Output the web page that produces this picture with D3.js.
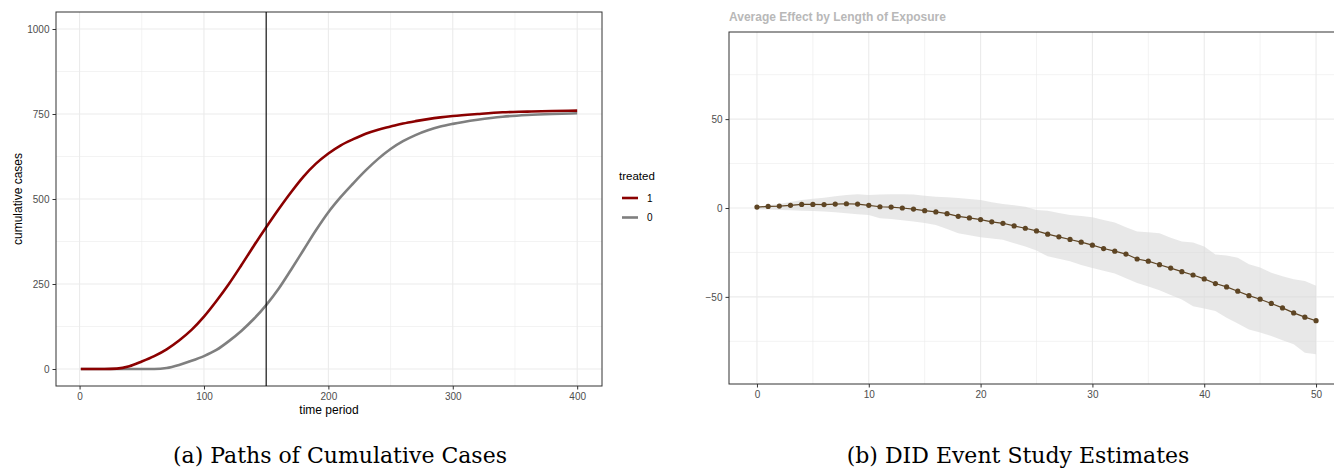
<!DOCTYPE html>
<html>
<head>
<meta charset="utf-8">
<script src="https://cdn.jsdelivr.net/npm/d3@7"></script>
<style>
  body { margin:0; background:#fff; }
  svg { display:block; }
</style>
</head>
<body>
<script>
/////////////////////////////////////////////////////////////////////
// DATA
/////////////////////////////////////////////////////////////////////
var timePeriod   = [1, 10, 20, 30, 40, 50, 60, 70, 80, 90, 100, 110, 120, 130, 140, 150, 160, 170, 180, 190, 200,
                    210, 220, 230, 240, 250, 260, 270, 280, 290, 300, 320, 340, 360, 380, 400];
var casesTreated = [0, 0, 0, 1, 8, 22, 38, 58, 84, 115, 154, 200, 250, 305, 362, 417, 470, 520, 566, 604, 634,
                    658, 676, 692, 704, 713, 722, 729, 735, 740, 744, 750, 755, 757, 759, 760];
var casesControl = [0, 0, 0, 0, 0, 0, 0, 3, 12, 24, 38, 56, 82, 112, 147, 188, 236, 292, 350, 408, 461,
                    506, 546, 584, 618, 647, 670, 688, 702, 713, 721, 733, 742, 747, 750, 752];
var treatTime    = 150;
var legendKeys   = ["1", "0"];

var eventTime = d3.range(0, 51);
var attEst   = [0.5, 0.9, 1.1, 1.5, 2.0, 2.0, 1.9, 2.2, 2.4, 2.2, 1.5, 0.7, 0.5, 0.0, -0.6, -1.5, -2.2, -3.2, -4.7, -5.6,
                -6.5, -7.8, -8.6, -10.1, -11.4, -12.9, -14.7, -16.2, -17.7, -19.2, -20.9, -22.8, -24.3, -25.9, -28.7,
                -29.9, -31.9, -33.8, -35.8, -37.7, -39.9, -42.5, -44.4, -46.8, -49.3, -51.3, -53.7, -56.2, -59.0, -61.4, -63.4];
var attUpper = [0.7, 1.5, 2.2, 3.4, 4.5, 5.2, 5.8, 6.6, 7.3, 7.8, 7.3, 7.6, 7.8, 7.8, 7.6, 6.9, 6.3, 6.0, 5.6, 5.1,
                4.5, 3.2, 2.2, 1.5, 0.7, -1.1, -1.5, -2.8, -3.9, -4.5, -5.2, -6.8, -8.2, -10.8, -13.2,
                -13.6, -14.2, -16.8, -18.8, -19.4, -21.6, -26.1, -26.7, -28.0, -31.7, -33.5, -36.4, -38.4, -40.1, -41.0, -43.8];
var attLower = [-0.7, -0.9, -1.1, -1.3, -1.5, -1.7, -1.9, -2.4, -3.0, -3.5, -3.9, -5.8, -6.2, -6.9, -7.6, -8.5, -9.5, -11.8, -14.2, -15.3,
                -16.4, -17.1, -17.9, -19.8, -21.6, -23.9, -27.2, -28.6, -30.0, -32.0, -33.8, -35.3, -36.9, -39.5, -42.2,
                -44.2, -46.3, -49.0, -51.5, -55.2, -56.5, -58.0, -61.8, -65.0, -68.3, -70.1, -72.0, -74.4, -76.7, -81.4, -82.3];

var leftXTicks  = [0, 100, 200, 300, 400];
var leftYTicks  = [0, 250, 500, 750, 1000];
var rightXTicks = [0, 10, 20, 30, 40, 50];
var rightYTicks = [-50, 0, 50];

/////////////////////////////////////////////////////////////////////
// SETUP
/////////////////////////////////////////////////////////////////////
var W = 1334, H = 469;
var gridColor = "#ebebeb", borderColor = "#333333", tickText = "#4d4d4d";
var sansFont = "'Liberation Sans', Arial, sans-serif";

var svg = d3.select("body").append("svg")
            .attr("width", W).attr("height", H)
            .style("font-family", sansFont);

function minorTicks(ticks) {
   var out = [];
   for (var i = 0; i < ticks.length - 1; i++) out.push((ticks[i] + ticks[i+1]) / 2);
   return out;
}

//-------------------------------------------------------------------
// Draws ggplot-ish panel background: grid lines, axes, border
//-------------------------------------------------------------------
function drawPanel(g, x, y, xticks, yticks, xminor, yminor, yfmt) {
   var x0 = x.range()[0], x1 = x.range()[1], y0 = y.range()[1], y1 = y.range()[0];

   g.append("g").attr("class", "grid").selectAll("line").data(xminor.concat(xticks)).join("line")
    .attr("x1", d => x(d)).attr("x2", d => x(d)).attr("y1", y0).attr("y2", y1)
    .attr("stroke", gridColor).attr("stroke-width", (d, i) => i < xminor.length ? 0.6 : 1.1);
   g.append("g").attr("class", "grid").selectAll("line").data(yminor.concat(yticks)).join("line")
    .attr("x1", x0).attr("x2", x1).attr("y1", d => y(d)).attr("y2", d => y(d))
    .attr("stroke", gridColor).attr("stroke-width", (d, i) => i < yminor.length ? 0.6 : 1.1);

   var xAxis = g.append("g").attr("transform", "translate(0," + y1 + ")")
                .call(d3.axisBottom(x).tickValues(xticks).tickSize(3.5).tickPadding(3));
   var yAxis = g.append("g").attr("transform", "translate(" + x0 + ",0)")
                .call(d3.axisLeft(y).tickValues(yticks).tickSize(3.5).tickPadding(3).tickFormat(yfmt || d3.format("d")));
   [xAxis, yAxis].forEach(function(a) {
      a.select(".domain").remove();
      a.selectAll(".tick line").attr("stroke", borderColor);
      a.selectAll(".tick text").attr("fill", tickText).style("font-size", "10px").style("font-family", sansFont);
   });

   g.append("rect").attr("x", x0).attr("y", y0).attr("width", x1 - x0).attr("height", y1 - y0)
    .attr("fill", "none").attr("stroke", borderColor).attr("stroke-width", 1);
}

/////////////////////////////////////////////////////////////////////
// LEFT PANEL: cumulative cases
/////////////////////////////////////////////////////////////////////
var xL = d3.scaleLinear().domain([-18.95, 419.95]).range([56, 602]);
var yL = d3.scaleLinear().domain([-50, 1050]).range([386, 12]);
var gL = svg.append("g");

drawPanel(gL, xL, yL, leftXTicks, leftYTicks, minorTicks(leftXTicks), minorTicks(leftYTicks));

var lineL = d3.line().x(d => xL(d[0])).y(d => yL(d[1])).curve(d3.curveMonotoneX);
var series = [
   { key: "1", color: "#8b0000", values: d3.zip(timePeriod, casesTreated) },
   { key: "0", color: "#7f7f7f", values: d3.zip(timePeriod, casesControl) }
];
// control drawn first so treated sits on top
gL.selectAll("path.cases").data(series.slice().reverse()).join("path")
  .attr("class", "cases")
  .attr("d", d => lineL(d.values))
  .attr("fill", "none").attr("stroke", d => d.color).attr("stroke-width", 2.6);

gL.append("line")
  .attr("x1", xL(treatTime)).attr("x2", xL(treatTime))
  .attr("y1", yL.range()[1]).attr("y2", yL.range()[0])
  .attr("stroke", "#000").attr("stroke-width", 1.1);

gL.append("text").attr("x", (xL.range()[0] + xL.range()[1]) / 2).attr("y", 414)
  .attr("text-anchor", "middle").style("font-size", "12px").text("time period");
gL.append("text").attr("transform", "translate(22," + (yL.range()[0] + yL.range()[1]) / 2 + ") rotate(-90)")
  .attr("text-anchor", "middle").style("font-size", "12px").text("cumulative cases");

// legend
var leg = svg.append("g").attr("transform", "translate(619,0)");
leg.append("text").attr("x", 0).attr("y", 180).style("font-size", "11.5px").text("treated");
leg.selectAll("g.key").data(legendKeys).join("g")
   .attr("class", "key")
   .attr("transform", (d, i) => "translate(0," + (198 + i * 19.5) + ")")
   .each(function(d) {
      var s = series.find(e => e.key === d);
      d3.select(this).append("line").attr("x1", 3).attr("x2", 19).attr("y1", 0).attr("y2", 0)
        .attr("stroke", s.color).attr("stroke-width", 2.6);
      d3.select(this).append("text").attr("x", 28).attr("y", 3.5).style("font-size", "10px").text(d);
   });

/////////////////////////////////////////////////////////////////////
// RIGHT PANEL: event study estimates
/////////////////////////////////////////////////////////////////////
var xR = d3.scaleLinear().domain([-2.5, 52.5]).range([729, 1344]);
var yR = d3.scaleLinear().domain([-99, 99]).range([384, 32]);
var gR = svg.append("g");

drawPanel(gR, xR, yR, rightXTicks, rightYTicks, minorTicks(rightXTicks), [-75, -25, 25, 75],
          d => d < 0 ? "\u2212" + Math.abs(d) : d);

// ribbon goes right above the grid lines
var band = d3.area().x(d => xR(d[0])).y0(d => yR(d[2])).y1(d => yR(d[1]));
gR.insert("path", "g:nth-of-type(3)")
  .attr("d", band(d3.zip(eventTime, attUpper, attLower)))
  .attr("fill", "#d9d9d9").attr("fill-opacity", 0.6);

var pts = d3.zip(eventTime, attEst);
gR.append("path")
  .attr("d", d3.line().x(d => xR(d[0])).y(d => yR(d[1]))(pts))
  .attr("fill", "none").attr("stroke", "#5e4524").attr("stroke-width", 1.2);
gR.selectAll("circle").data(pts).join("circle")
  .attr("cx", d => xR(d[0])).attr("cy", d => yR(d[1])).attr("r", 2.6)
  .attr("fill", "#5e4524");

svg.append("text").attr("x", 729).attr("y", 21)
   .style("font-size", "12px").style("font-weight", "bold").attr("fill", "#b8b8b8")
   .text("Average Effect by Length of Exposure");

/////////////////////////////////////////////////////////////////////
// CAPTIONS
/////////////////////////////////////////////////////////////////////
var captions = [
   { x: 340, text: "(a) Paths of Cumulative Cases" },
   { x: 1018, text: "(b) DID Event Study Estimates" }
];
svg.selectAll("text.caption").data(captions).join("text")
   .attr("class", "caption")
   .attr("x", d => d.x).attr("y", 463)
   .attr("text-anchor", "middle")
   .style("font-family", "'DejaVu Serif', serif").style("font-size", "22px")
   .text(d => d.text);
</script>
</body>
</html>
